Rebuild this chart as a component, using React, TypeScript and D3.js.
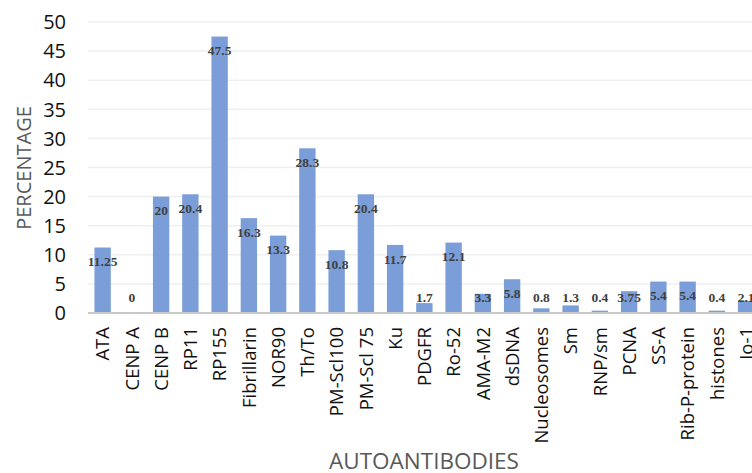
import React from "react";
import * as d3 from "d3";

const categories = ["ATA","CENP A","CENP B","RP11","RP155","Fibrillarin","NOR90","Th/To","PM-Scl100","PM-Scl 75","Ku","PDGFR","Ro-52","AMA-M2","dsDNA","Nucleosomes","Sm","RNP/sm","PCNA","SS-A","Rib-P-protein","histones","Jo-1"];
const values = [11.25,0,20,20.4,47.5,16.3,13.3,28.3,10.8,20.4,11.7,1.7,12.1,3.3,5.8,0.8,1.3,0.4,3.75,5.4,5.4,0.4,2.1];
const valueLabels = ["11.25","0","20","20.4","47.5","16.3","13.3","28.3","10.8","20.4","11.7","1.7","12.1","3.3","5.8","0.8","1.3","0.4","3.75","5.4","5.4","0.4","2.1"];
const yTicks = [0,5,10,15,20,25,30,35,40,45,50];

export default function App() {
  const W = 752, H = 473;
  const x = d3.scaleBand<string>().domain(categories).range([88, 88 + 29.25 * categories.length]).paddingInner(0.44).paddingOuter(0.22);
  const y = d3.scaleLinear().domain([0, 50]).range([313, 22]);
  const font = "'Open Sans', sans-serif";
  return (
    <svg width={W} height={H} style={{ position: "absolute", left: 0, top: 0, background: "#fff" }}>
      {yTicks.map(t => (
        <g key={t}>
          {t > 0 && <line x1={88} x2={W} y1={y(t)} y2={y(t)} stroke="#efefef" strokeWidth={1.5} />}
          <text x={66} y={y(t)} dy="0.36em" textAnchor="end" fontFamily={font} fontSize={20} fill="#111">{t}</text>
        </g>
      ))}
      {categories.map((c, i) => {
        const top = y(values[i]);
        const ly = Math.min(top + 14, 297.5);
        const cx = (x(c) as number) + x.bandwidth() / 2;
        return (
          <g key={c}>
            <rect x={x(c)} y={top} width={x.bandwidth()} height={y(0) - top} fill="#7b9ed8" />
            <text x={cx} y={ly} dy="0.35em" textAnchor="middle" fontFamily="'Liberation Serif', 'Times New Roman', serif" fontWeight="bold" fontSize={13.5} fill="#404040">{valueLabels[i]}</text>
            <text transform={`translate(${cx},327) rotate(-90)`} dy="0.36em" textAnchor="end" fontFamily={font} fontSize={18.5} fill="#111">{c}</text>
          </g>
        );
      })}
      <line x1={88} x2={W} y1={y(0)} y2={y(0)} stroke="#c8c8c8" strokeWidth={2} />
      <text transform={`translate(24,168) rotate(-90)`} dy="0.36em" textAnchor="middle" fontFamily={font} fontSize={20} fill="#595959">PERCENTAGE</text>
      <text x={424} y={469} textAnchor="middle" fontFamily={font} fontSize={22.5} fill="#595959">AUTOANTIBODIES</text>
    </svg>
  );
}
